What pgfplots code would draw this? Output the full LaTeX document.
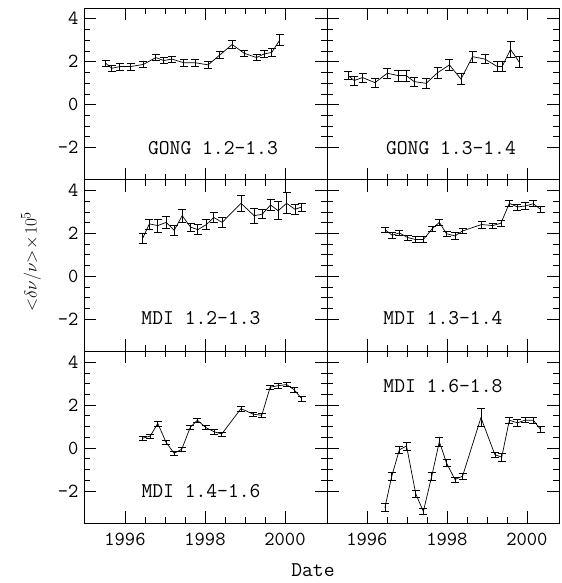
\documentclass[border=0pt]{standalone}
\usepackage{fontspec}
\usepackage{pgfplots}
\pgfplotsset{compat=1.18}
\usepgfplotslibrary{groupplots}
\usetikzlibrary{calc}
\newcommand{\lab}{\fontsize{21}{23}\selectfont\ttfamily}
\begin{document}
\begin{tikzpicture}
\begin{groupplot}[
  group style={group size=2 by 3, horizontal sep=0pt, vertical sep=0pt,
    x descriptions at=edge bottom, y descriptions at=edge left},
  scale only axis,
  height=171.7pt,
  ymin=-3.5, ymax=4.5,
  ytick={-2,0,2,4}, minor y tick num=3,
  xtick={1996,1998,2000}, minor x tick num=3,
  major tick length=12pt, minor tick length=6pt,
  tick style={black, line width=0.6pt},
  axis line style={line width=0.8pt},
  ticklabel style={font=\fontsize{20}{22}\selectfont\ttfamily},
  xticklabel style={yshift=-6pt},
  yticklabel style={xshift=-2pt},
  /pgf/number format/assume math mode=true,
  /pgf/number format/1000 sep={},
  eb/.style={black, line width=0.7pt,
    error bars/.cd, y dir=both, y explicit,
    error mark=-,
    error mark options={rotate=90, black, mark size=4pt, line width=0.6pt},
    error bar style={line width=0.6pt}},
]
% GONG 1.2-1.3
\nextgroupplot[width=243pt, xmin=1994.975, xmax=2001.05]
\addplot[eb] coordinates {
(1995.52,1.92) +- (0,0.15)
(1995.67,1.69) +- (0,0.15)
(1995.87,1.77) +- (0,0.15)
(1996.14,1.77) +- (0,0.15)
(1996.46,1.87) +- (0,0.15)
(1996.77,2.19) +- (0,0.15)
(1996.97,2.05) +- (0,0.15)
(1997.17,2.12) +- (0,0.15)
(1997.47,1.95) +- (0,0.15)
(1997.75,1.95) +- (0,0.15)
(1998.08,1.85) +- (0,0.18)
(1998.37,2.31) +- (0,0.15)
(1998.68,2.80) +- (0,0.2)
(1998.98,2.39) +- (0,0.15)
(1999.29,2.19) +- (0,0.15)
(1999.48,2.36) +- (0,0.15)
(1999.67,2.43) +- (0,0.2)
(1999.87,3.01) +- (0,0.26)
};
\node[font=\lab] at (axis cs:1998.2,-2.05) {GONG 1.2-1.3};
% GONG 1.3-1.4
\nextgroupplot[width=232pt, xmin=1995.0, xmax=2000.8]
\addplot[eb] coordinates {
(1995.53,1.35) +- (0,0.19)
(1995.68,1.12) +- (0,0.2)
(1995.89,1.26) +- (0,0.2)
(1996.20,1.02) +- (0,0.22)
(1996.51,1.46) +- (0,0.23)
(1996.78,1.35) +- (0,0.25)
(1996.98,1.35) +- (0,0.25)
(1997.18,1.07) +- (0,0.22)
(1997.48,0.99) +- (0,0.23)
(1997.77,1.49) +- (0,0.25)
(1998.06,1.85) +- (0,0.25)
(1998.35,1.19) +- (0,0.25)
(1998.64,2.23) +- (0,0.25)
(1998.95,2.12) +- (0,0.21)
(1999.26,1.77) +- (0,0.23)
(1999.38,1.77) +- (0,0.23)
(1999.59,2.57) +- (0,0.39)
(1999.80,2.00) +- (0,0.25)
};
\node[font=\lab] at (axis cs:1998.1,-2.05) {GONG 1.3-1.4};
% MDI 1.2-1.3
\nextgroupplot[width=243pt, xmin=1994.975, xmax=2001.05]
\addplot[eb] coordinates {
(1996.44,1.76) +- (0,0.24)
(1996.61,2.44) +- (0,0.23)
(1996.82,2.36) +- (0,0.3)
(1997.03,2.51) +- (0,0.27)
(1997.23,2.14) +- (0,0.23)
(1997.43,2.82) +- (0,0.32)
(1997.64,2.29) +- (0,0.19)
(1997.82,2.17) +- (0,0.23)
(1998.03,2.40) +- (0,0.23)
(1998.22,2.74) +- (0,0.24)
(1998.43,2.51) +- (0,0.24)
(1998.90,3.40) +- (0,0.36)
(1999.23,2.82) +- (0,0.34)
(1999.43,2.89) +- (0,0.21)
(1999.64,3.32) +- (0,0.25)
(1999.83,3.05) +- (0,0.42)
(2000.04,3.40) +- (0,0.49)
(2000.25,3.12) +- (0,0.23)
(2000.42,3.23) +- (0,0.19)
};
\node[font=\lab] at (axis cs:1997.9,-1.95) {MDI 1.2-1.3};
% MDI 1.3-1.4
\nextgroupplot[width=232pt, xmin=1995.0, xmax=2000.8]
\addplot[eb] coordinates {
(1996.45,2.17) +- (0,0.13)
(1996.63,1.91) +- (0,0.15)
(1996.81,2.02) +- (0,0.13)
(1997.02,1.80) +- (0,0.13)
(1997.22,1.71) +- (0,0.14)
(1997.41,1.71) +- (0,0.14)
(1997.63,2.21) +- (0,0.1)
(1997.81,2.51) +- (0,0.14)
(1997.99,1.98) +- (0,0.1)
(1998.20,1.88) +- (0,0.17)
(1998.39,2.11) +- (0,0.12)
(1998.87,2.41) +- (0,0.17)
(1999.14,2.36) +- (0,0.13)
(1999.35,2.47) +- (0,0.13)
(1999.56,3.40) +- (0,0.13)
(1999.76,3.23) +- (0,0.14)
(1999.95,3.27) +- (0,0.16)
(2000.16,3.38) +- (0,0.14)
(2000.34,3.12) +- (0,0.15)
};
\node[font=\lab] at (axis cs:1997.9,-1.95) {MDI 1.3-1.4};
% MDI 1.4-1.6
\nextgroupplot[width=243pt, xmin=1994.975, xmax=2001.05]
\addplot[eb] coordinates {
(1996.44,0.45) +- (0,0.1)
(1996.63,0.55) +- (0,0.1)
(1996.82,1.14) +- (0,0.12)
(1997.03,0.25) +- (0,0.1)
(1997.23,-0.25) +- (0,0.1)
(1997.42,-0.06) +- (0,0.1)
(1997.63,0.95) +- (0,0.1)
(1997.81,1.29) +- (0,0.11)
(1998.02,0.95) +- (0,0.1)
(1998.23,0.75) +- (0,0.1)
(1998.42,0.65) +- (0,0.1)
(1998.90,1.83) +- (0,0.12)
(1999.21,1.57) +- (0,0.1)
(1999.42,1.52) +- (0,0.1)
(1999.63,2.83) +- (0,0.1)
(1999.83,2.90) +- (0,0.1)
(2000.04,2.95) +- (0,0.1)
(2000.23,2.71) +- (0,0.1)
(2000.42,2.29) +- (0,0.1)
};
\node[font=\lab] at (axis cs:1997.9,-2.03) {MDI 1.4-1.6};
% MDI 1.6-1.8
\nextgroupplot[width=232pt, xmin=1995.0, xmax=2000.8]
\addplot[eb] coordinates {
(1996.45,-2.78) +- (0,0.19)
(1996.62,-1.32) +- (0,0.17)
(1996.81,-0.09) +- (0,0.15)
(1996.99,0.09) +- (0,0.18)
(1997.22,-2.14) +- (0,0.15)
(1997.41,-2.96) +- (0,0.15)
(1997.62,-1.32) +- (0,0.17)
(1997.81,0.29) +- (0,0.21)
(1997.99,-0.71) +- (0,0.17)
(1998.20,-1.47) +- (0,0.12)
(1998.39,-1.32) +- (0,0.12)
(1998.85,1.41) +- (0,0.42)
(1999.20,-0.32) +- (0,0.12)
(1999.37,-0.43) +- (0,0.18)
(1999.56,1.29) +- (0,0.14)
(1999.76,1.17) +- (0,0.15)
(1999.95,1.29) +- (0,0.12)
(2000.16,1.29) +- (0,0.15)
(2000.34,0.86) +- (0,0.15)
};
\node[font=\lab] at (axis cs:1997.9,2.9) {MDI 1.6-1.8};
\end{groupplot}
\node[rotate=90, font=\fontsize{19}{21}\selectfont] at ($(group c1r2.west)+(-53pt,4pt)$) {$\mathord{<}\delta\nu/\nu\mathord{>}\!\times\!10^{5}$};
\node[font=\fontsize{21}{23}\selectfont\ttfamily] at ($(group c1r3.south east)+(-14pt,-47pt)$) {Date};
\pgfresetboundingbox
\path ($(group c1r1.north west)+(-84pt,8pt)$) rectangle ($(group c2r3.south east)+(3pt,-60pt)$);
\end{tikzpicture}
\end{document}
